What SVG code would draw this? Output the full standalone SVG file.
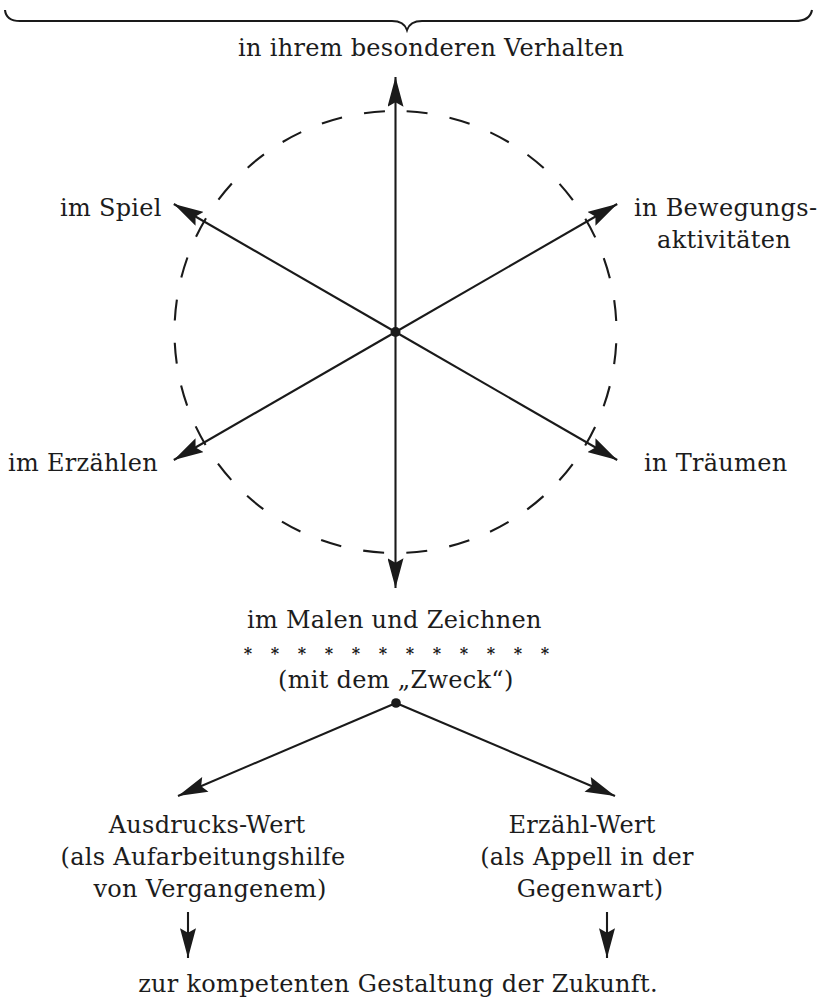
<svg xmlns="http://www.w3.org/2000/svg" width="818" height="1003" viewBox="0 0 818 1003">
<defs>
<style>
.t{font-family:"DejaVu Serif","Liberation Serif",serif;font-size:24px;letter-spacing:0.3px;fill:#1c1c1c}
.c{text-anchor:middle}
.ln{stroke:#1a1a1a;stroke-width:2.1;fill:none}
.ar{marker-end:url(#ah)}
.star{font-family:"DejaVu Serif","Liberation Serif",serif;font-size:16px;fill:#1c1c1c;text-anchor:middle;font-weight:bold}
</style>
<marker id="ah" markerUnits="userSpaceOnUse" markerWidth="30" markerHeight="16" viewBox="0 0 26 14" refX="26" refY="7" orient="auto">
<path d="M0,0 L26,7 L0,14 L4,7 Z" fill="#1a1a1a"/>
</marker>
</defs>
<rect width="818" height="1003" fill="#ffffff"/>
<g id="brace">
<path class="ln" stroke-width="2.2" d="M5,10 Q6,21 20,21 L392,21 Q404,21 407,30 Q410,21 422,21 L795,21 Q810,21 812,10"/>
</g>
<g id="circle">
<path class="ln" d="M395.5,111 A221,221 0 1 1 395.5,553 A221,221 0 1 1 395.5,111" stroke-dasharray="21 22.393" stroke-dashoffset="-11.2"/>
</g>
<g id="connectors">
<line class="ln ar" x1="395.5" y1="332" x2="395.5" y2="77"/>
<line class="ln ar" x1="395.5" y1="332" x2="395.5" y2="588"/>
<line class="ln ar" x1="395.5" y1="332" x2="173.8" y2="204"/>
<line class="ln ar" x1="395.5" y1="332" x2="617.2" y2="204"/>
<line class="ln ar" x1="395.5" y1="332" x2="173.8" y2="460"/>
<line class="ln ar" x1="395.5" y1="332" x2="617.2" y2="460"/>
<line class="ln ar" x1="396" y1="703" x2="178" y2="796"/>
<line class="ln ar" x1="396" y1="703" x2="615" y2="796"/>
<line class="ln ar" x1="188" y1="912" x2="188" y2="958"/>
<line class="ln ar" x1="607" y1="912" x2="607" y2="958"/>
</g>
<g id="center-dot"><circle cx="395.5" cy="332" r="5" fill="#1a1a1a"/></g>
<g id="zweck-dot"><circle cx="396" cy="703" r="4.8" fill="#1a1a1a"/></g>
<g id="n-verhalten"><text class="t" x="238" y="56">in ihrem besonderen Verhalten</text></g>
<g id="n-spiel"><text class="t" x="60" y="216">im Spiel</text></g>
<g id="n-bewegung"><text class="t" x="634" y="216">in Bewegungs-</text><text class="t" x="791" y="248" text-anchor="end">aktivitäten</text></g>
<g id="n-erzaehlen"><text class="t" x="8" y="471">im Erzählen</text></g>
<g id="n-traeumen"><text class="t" x="644" y="471">in Träumen</text></g>
<g id="n-malen">
<text class="t" x="247" y="628">im Malen und Zeichnen</text>
<text class="star" x="248 275 302 329 356 383 410 437 464 491 518 545" y="659">************</text>
<text class="t" x="278" y="688">(mit dem „Zweck“)</text>
</g>
<g id="n-ausdruck">
<text class="t c" x="207" y="833">Ausdrucks-Wert</text>
<text class="t c" x="203" y="865">(als Aufarbeitungshilfe</text>
<text class="t c" x="210" y="897">von Vergangenem)</text>
</g>
<g id="n-erzaehl">
<text class="t c" x="582" y="833">Erzähl-Wert</text>
<text class="t c" x="587" y="865">(als Appell in der</text>
<text class="t c" x="590" y="897">Gegenwart)</text>
</g>
<g id="n-zukunft"><text class="t c" x="398" y="992">zur kompetenten Gestaltung der Zukunft.</text></g>
</svg>
